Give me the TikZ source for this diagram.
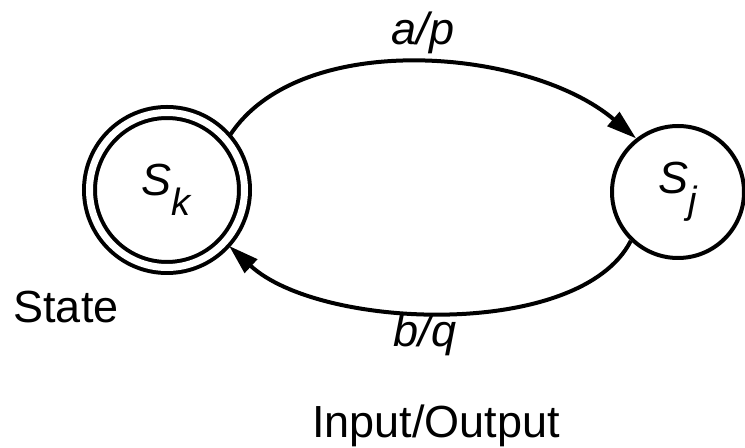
\documentclass[tikz,border=0pt]{standalone}
\usepackage{fontspec}
\setmainfont{Liberation Sans}
\usetikzlibrary{arrows.meta}

\tikzset{
  state/.style={circle, draw, line width=2pt, inner sep=0pt, font=\fontsize{22.5}{27}\selectfont},
  final/.style={state, double, double distance=3.5pt, outer sep=3pt},
  trans/.style={->, line width=2pt},
  lbl/.style={font=\fontsize{22.5}{27}\selectfont, anchor=base, inner sep=0pt},
}
\newcommand{\stname}[2]{\textit{#1}\raisebox{-10pt}{\fontsize{19}{22}\selectfont\textit{#2}}}

\begin{document}
\begin{tikzpicture}[x=0.5pt, y=-0.5pt, >={Triangle[length=15pt,width=9pt]}]
    \useasboundingbox (0,0) rectangle (745,448);

    % Stati
    \node[final, minimum size=77.5pt] (sk) at (167,190) {\stname{S}{k}};
    \node[state, minimum size=66pt] (sj) at (678,192) {\stname{S}{j}};

    % Transizioni
    \draw[trans] (sk.41) .. controls (300,28) and (530,48) .. (sj.128);
    \draw[trans] (sj.-134) .. controls (580,340) and (320,330) .. (sk.-42);

    % Etichette
    \node[lbl] (ap) at (423,45) {\textit{a/p}};
    \node[lbl] (bq) at (425,347) {\textit{b/q}};
    \node[lbl] (st) at (66,323) {State};
    \node[lbl] (io) at (436,438) {Input/Output};
\end{tikzpicture}
\end{document}
